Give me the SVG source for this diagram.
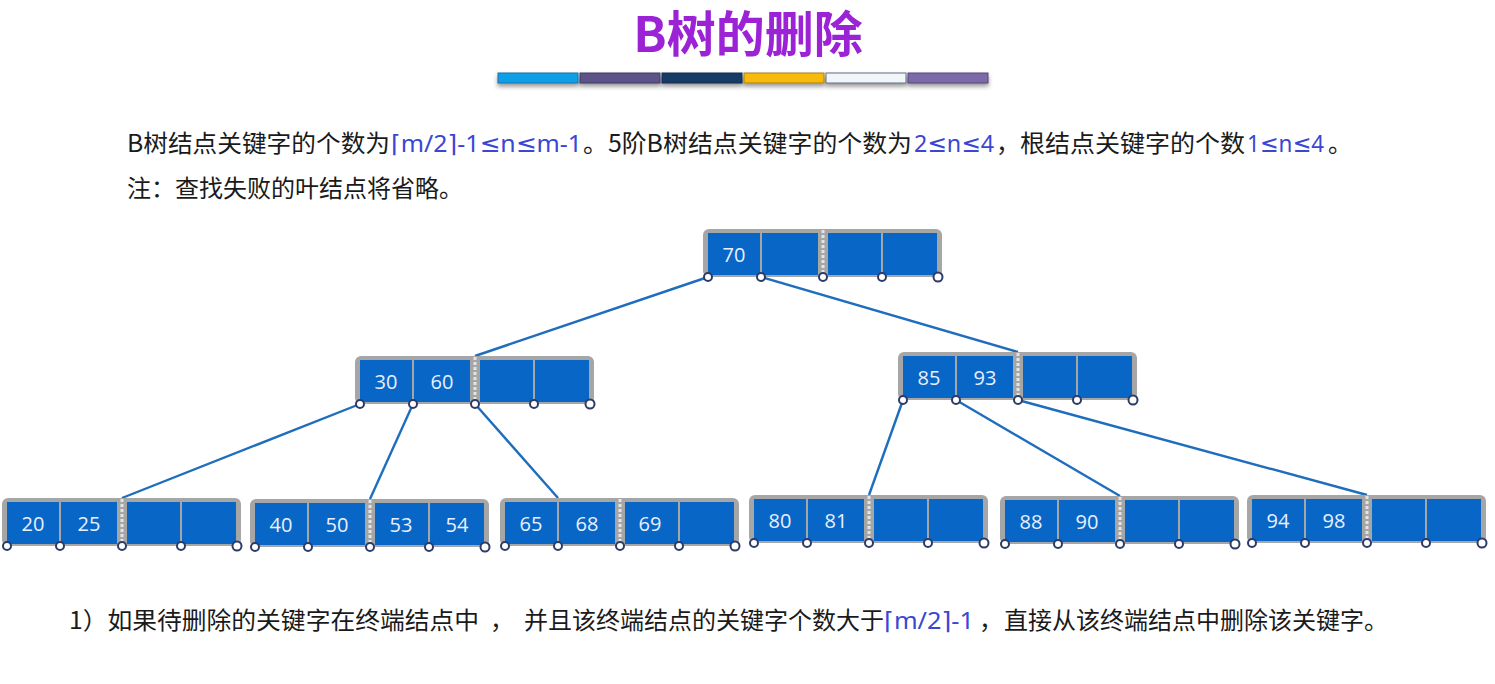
<svg xmlns="http://www.w3.org/2000/svg" width="1495" height="684" viewBox="0 0 1495 684">
<defs>
<style>
.title{font-family:"Noto Sans CJK SC","Noto Sans",sans-serif;font-weight:700;font-size:49px;fill:#9b23d5}
.t{font-family:"Noto Sans CJK SC","Noto Sans",sans-serif;font-size:24px;fill:#1a1a1a}
.hl{font-family:"Noto Sans","DejaVu Sans","Noto Sans CJK SC",sans-serif;fill:#3a46d4}
.frame{fill:#a6a6a6}
.cell{fill:#0866c6}
.div{stroke:#e4e4e4;stroke-width:3;stroke-dasharray:3 2}
.pt{fill:#ffffff;stroke:#2d3b68;stroke-width:2}
.key{font-family:"Open Sans","Noto Sans",sans-serif;font-size:20px;fill:#e8f0ff;text-anchor:middle}
.edge{stroke:#1f6dbd;stroke-width:2.4;fill:none}
.bar{stroke-width:1}
</style>
<filter id="sh" x="-5%" y="-50%" width="110%" height="250%">
<feDropShadow dx="0" dy="3" stdDeviation="2" flood-color="#333" flood-opacity="0.5"/>
</filter>
<g id="tpl">
<rect class="frame" x="0" y="0" width="239" height="48" rx="6"/>
<rect class="cell" x="5" y="4" width="52" height="42"/>
<rect class="cell" x="59" y="4" width="56" height="42"/>
<line class="div" x1="120" y1="1" x2="120" y2="47"/>
<rect class="cell" x="125" y="4" width="53" height="42"/>
<rect class="cell" x="180" y="4" width="54" height="42"/>
<circle class="pt" cx="5" cy="48" r="4"/>
<circle class="pt" cx="58" cy="48" r="4"/>
<circle class="pt" cx="120" cy="48" r="4"/>
<circle class="pt" cx="179" cy="48" r="4"/>
<circle class="pt" cx="235" cy="48" r="4.5"/>
</g>
</defs>
<rect width="1495" height="684" fill="#ffffff"/>

<g id="title">
<text class="title" x="748" y="52" text-anchor="middle">B树的删除</text>
<g filter="url(#sh)">
<rect class="bar" x="498" y="73" width="80" height="10" fill="#0ba0e8" stroke="#1c6ea6"/>
<rect class="bar" x="580" y="73" width="80" height="10" fill="#5b5389" stroke="#3f3a66"/>
<rect class="bar" x="662" y="73" width="80" height="10" fill="#173a66" stroke="#102848"/>
<rect class="bar" x="744" y="73" width="80" height="10" fill="#f8b90c" stroke="#a98015"/>
<rect class="bar" x="826" y="73" width="80" height="10" fill="#f2f5f9" stroke="#5f6f88"/>
<rect class="bar" x="908" y="73" width="80" height="10" fill="#7b6aa8" stroke="#56497d"/>
</g>
</g>

<g id="intro">
<text class="t" x="127" y="152" textLength="263" lengthAdjust="spacingAndGlyphs">B树结点关键字的个数为</text>
<text class="t hl" x="391" y="152" textLength="191" lengthAdjust="spacingAndGlyphs">⌈m/2⌉-1≤n≤m-1</text>
<text class="t" x="583" y="152" textLength="329" lengthAdjust="spacingAndGlyphs">。5阶B树结点关键字的个数为</text>
<text class="t hl" x="914" y="152" textLength="80" lengthAdjust="spacingAndGlyphs">2≤n≤4</text>
<text class="t" x="996" y="152">，</text>
<text class="t" x="1020" y="152" textLength="225" lengthAdjust="spacingAndGlyphs">根结点关键字的个数</text>
<text class="t hl" x="1247" y="152" textLength="77" lengthAdjust="spacingAndGlyphs">1≤n≤4</text>
<text class="t" x="1328" y="152">。</text>
<text class="t" x="127" y="197" textLength="336" lengthAdjust="spacingAndGlyphs">注：查找失败的叶结点将省略。</text>
</g>

<g id="connectors">
<line class="edge" x1="708" y1="277" x2="475" y2="356"/>
<line class="edge" x1="761" y1="277" x2="1018" y2="352"/>
<line class="edge" x1="360" y1="404" x2="122" y2="498"/>
<line class="edge" x1="413" y1="404" x2="370" y2="499"/>
<line class="edge" x1="475" y1="404" x2="558" y2="498"/>
<line class="edge" x1="903" y1="400" x2="869" y2="495"/>
<line class="edge" x1="956" y1="400" x2="1120" y2="496"/>
<line class="edge" x1="1018" y1="400" x2="1367" y2="495"/>
</g>

<g id="node-root" transform="translate(703,229)">
<use href="#tpl"/>
<text class="key" x="31" y="33">70</text>
</g>
<g id="node-30-60" transform="translate(355,356)">
<use href="#tpl"/>
<text class="key" x="31" y="33">30</text>
<text class="key" x="87" y="33">60</text>
</g>
<g id="node-85-93" transform="translate(898,352)">
<use href="#tpl"/>
<text class="key" x="31" y="33">85</text>
<text class="key" x="87" y="33">93</text>
</g>
<g id="leaf-20-25" transform="translate(2,498)">
<use href="#tpl"/>
<text class="key" x="31" y="33">20</text>
<text class="key" x="87" y="33">25</text>
</g>
<g id="leaf-40-54" transform="translate(250,499)">
<use href="#tpl"/>
<text class="key" x="31" y="33">40</text>
<text class="key" x="87" y="33">50</text>
<text class="key" x="151" y="33">53</text>
<text class="key" x="207" y="33">54</text>
</g>
<g id="leaf-65-69" transform="translate(500,498)">
<use href="#tpl"/>
<text class="key" x="31" y="33">65</text>
<text class="key" x="87" y="33">68</text>
<text class="key" x="150" y="33">69</text>
</g>
<g id="leaf-80-81" transform="translate(749,495)">
<use href="#tpl"/>
<text class="key" x="31" y="33">80</text>
<text class="key" x="87" y="33">81</text>
</g>
<g id="leaf-88-90" transform="translate(1000,496)">
<use href="#tpl"/>
<text class="key" x="31" y="33">88</text>
<text class="key" x="87" y="33">90</text>
</g>
<g id="leaf-94-98" transform="translate(1247,495)">
<use href="#tpl"/>
<text class="key" x="31" y="33">94</text>
<text class="key" x="87" y="33">98</text>
</g>

<g id="rule">
<text class="t" x="69" y="629" textLength="410" lengthAdjust="spacingAndGlyphs">1）如果待删除的关键字在终端结点中</text>
<text class="t" x="490" y="629">，</text>
<text class="t" x="524" y="629" textLength="360" lengthAdjust="spacingAndGlyphs">并且该终端结点的关键字个数大于</text>
<text class="t hl" x="884" y="629" textLength="90" lengthAdjust="spacingAndGlyphs">⌈m/2⌉-1</text>
<text class="t" x="979" y="629">，</text>
<text class="t" x="1004" y="629" textLength="384" lengthAdjust="spacingAndGlyphs">直接从该终端结点中删除该关键字。</text>
</g>
</svg>
